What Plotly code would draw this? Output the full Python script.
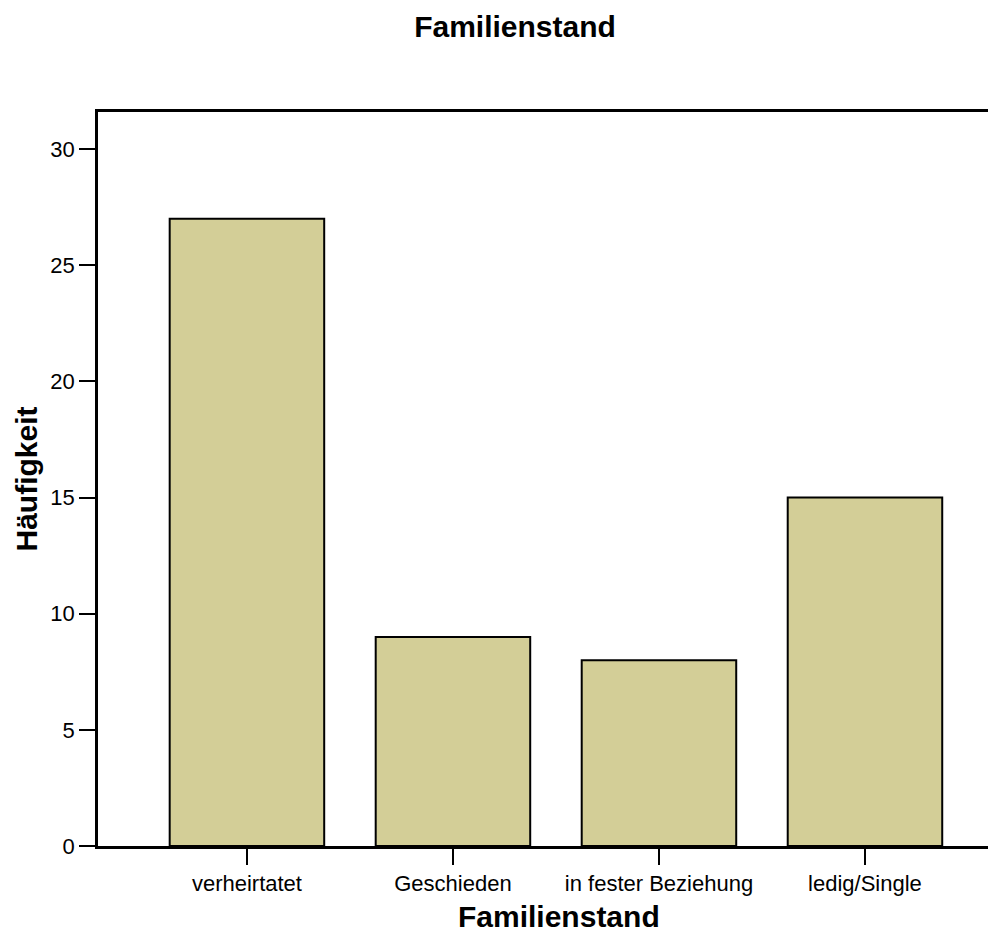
import plotly.graph_objects as go

categories = ["verheirtatet", "Geschieden", "in fester Beziehung", "ledig/Single"]
counts = [27, 9, 8, 15]
y_ticks = [0, 5, 10, 15, 20, 25, 30]

# the page body adds an 8 px offset, so the figure is sized/positioned to compensate
OFF = 8
W, H = 996 - OFF, 932 - OFF
ML, MR, MT, MB = 98 - OFF, 0, 112 - OFF, 86
PW, PH = W - ML - MR, H - MT - MB

fig = go.Figure(
    go.Bar(
        x=categories,
        y=counts,
        width=0.75,
        marker=dict(color="#D3CE97", line=dict(color="black", width=2)),
        hoverinfo="x+y",
    )
)

font_family = "Liberation Sans, Arial, Helvetica, sans-serif"

fig.update_layout(
    width=W,
    height=H,
    margin=dict(l=ML, r=MR, t=MT, b=MB, pad=0),
    paper_bgcolor="white",
    plot_bgcolor="white",
    showlegend=False,
    font=dict(family=font_family, color="black"),
    title=dict(
        text="<b>Familienstand</b>",
        x=(515 - OFF) / W,
        xanchor="center",
        xref="container",
        y=1 - (26 - OFF) / H,
        yanchor="middle",
        font=dict(size=30, color="black", family=font_family),
    ),
    xaxis=dict(
        type="category",
        range=[-0.723, 3.636],
        showgrid=False,
        zeroline=False,
        showline=True,
        linecolor="black",
        linewidth=2.5,
        mirror=True,
        ticks="outside",
        ticklen=16,
        tickwidth=2,
        tickcolor="black",
        tickfont=dict(size=22, color="black"),
    ),
    yaxis=dict(
        range=[0, 31.6],
        tickvals=y_ticks,
        showgrid=False,
        zeroline=False,
        showline=True,
        linecolor="black",
        linewidth=2.5,
        ticks="outside",
        ticklen=16,
        tickwidth=2,
        tickcolor="black",
        tickfont=dict(size=22, color="black"),
        title=dict(
            text="<b>Häufigkeit</b>",
            font=dict(size=30, color="black", family=font_family),
            standoff=4,
        ),
    ),
    annotations=[
        dict(
            text="<b>Familienstand</b>",
            xref="paper",
            yref="paper",
            x=(559 - 98) / PW,
            y=-(916 - 846) / PH,
            xanchor="center",
            yanchor="middle",
            showarrow=False,
            font=dict(size=30, color="black", family=font_family),
        )
    ],
)

fig.write_html("out.html")
